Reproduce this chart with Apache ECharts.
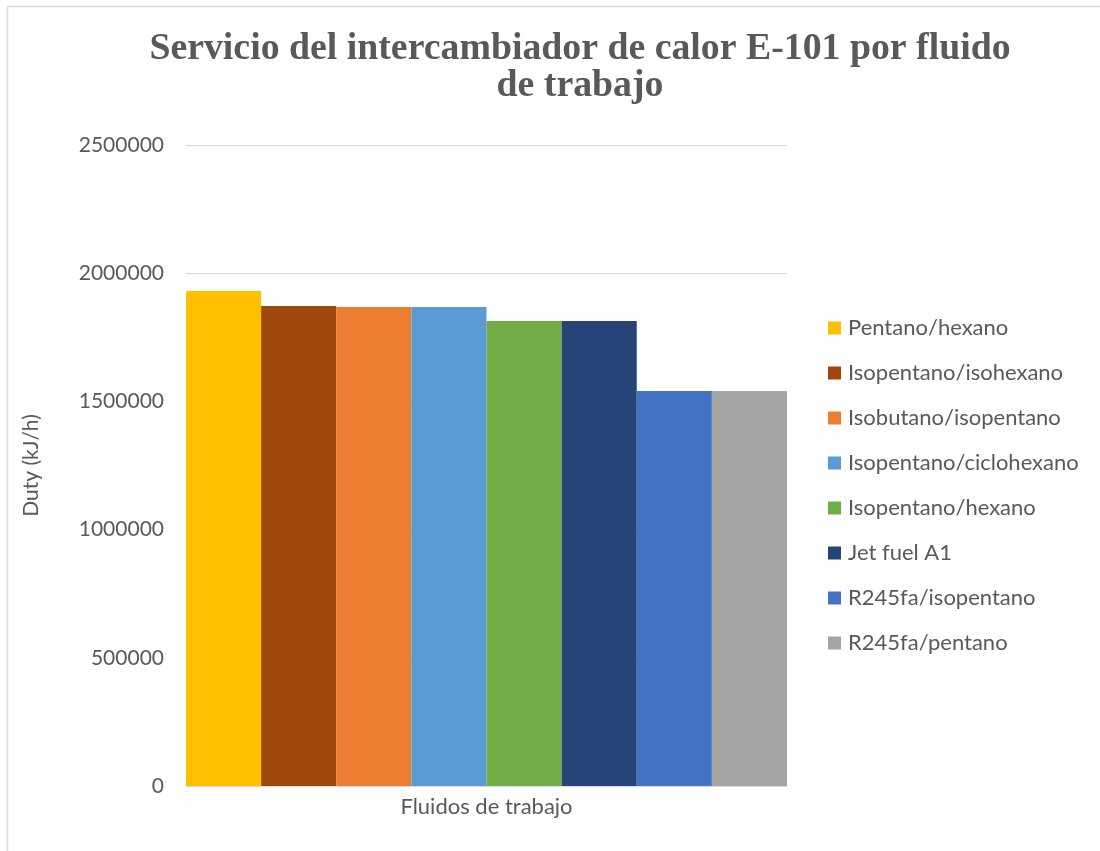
<!DOCTYPE html>
<html>
<head>
<meta charset="utf-8">
<script src="https://cdn.jsdelivr.net/npm/echarts@6/dist/echarts.min.js"></script>
<style>html,body{margin:0;padding:0;background:#fff}#c{width:1100px;height:851px}</style>
</head>
<body>
<div id="c"></div>
<script>
const categories = ["Fluidos de trabajo"];
const seriesNames = ["Pentano/hexano","Isopentano/isohexano","Isobutano/isopentano","Isopentano/ciclohexano","Isopentano/hexano","Jet fuel A1","R245fa/isopentano","R245fa/pentano"];
const seriesValues = [1931000, 1872500, 1868600, 1868000, 1814000, 1814000, 1541000, 1541000];
const colors = ["#FFC000","#9E480E","#ED7D31","#5B9BD5","#70AD47","#264478","#4472C4","#A5A5A5"];
const yTicks = [0, 500000, 1000000, 1500000, 2000000, 2500000];

const font = "Lato, 'Open Sans', sans-serif";
const chart = echarts.init(document.getElementById('c'));
chart.setOption({
  animation: false,
  color: colors,
  title: {
    text: "Servicio del intercambiador de calor E-101 por fluido\nde trabajo",
    left: 575, textAlign: 'center', top: 26,
    textStyle: {fontFamily: "'Liberation Serif', 'Times New Roman', serif", fontWeight: 'bold', fontSize: 37.8, color: '#595959', lineHeight: 37}
  },
  legend: {
    orient: 'vertical', left: 823, top: 312,
    itemWidth: 13, itemHeight: 13, itemGap: 23,
    icon: 'rect',
    textStyle: {fontFamily: font, fontSize: 22, color: '#595959', padding: [0, 0, 0, 2]},
    data: seriesNames
  },
  grid: {left: 186, right: 1100 - 787, top: 145, bottom: 851 - 786},
  xAxis: {
    type: 'category', data: categories,
    axisLine: {lineStyle: {color: '#d9d9d9'}},
    axisTick: {show: false},
    axisLabel: {fontFamily: font, fontSize: 22, color: '#595959', margin: 10}
  },
  yAxis: {
    type: 'value', min: yTicks[0], max: yTicks[yTicks.length - 1], interval: 500000,
    name: 'Duty (kJ/h)', nameLocation: 'middle', nameGap: 144,
    nameTextStyle: {fontFamily: font, fontSize: 21, color: '#595959'},
    axisLabel: {fontFamily: font, fontSize: 21, color: '#595959', margin: 22, formatter: v => String(v)},
    axisLine: {show: false}, axisTick: {show: false},
    splitLine: {lineStyle: {color: '#d9d9d9', width: 1}}
  },
  series: seriesNames.map((n, i) => ({
    name: n, type: 'bar', data: [seriesValues[i]],
    barGap: '0%', barCategoryGap: '0%'
  })),
  graphic: [
    {type: 'line', shape: {x1: 7.5, y1: 6.5, x2: 1100, y2: 6.5}, style: {stroke: '#d9d9d9', lineWidth: 1.5}},
    {type: 'line', shape: {x1: 7.5, y1: 6.5, x2: 7.5, y2: 851}, style: {stroke: '#d9d9d9', lineWidth: 1.5}}
  ]
});
</script>
</body>
</html>
